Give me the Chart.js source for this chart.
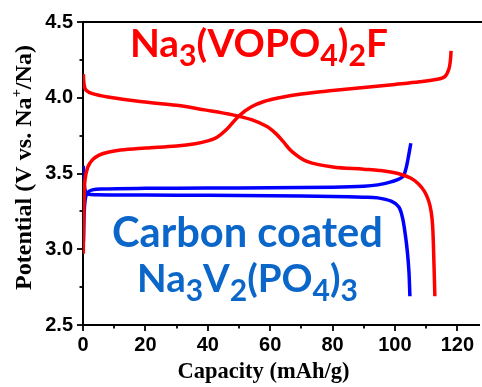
<!DOCTYPE html>
<html><head><meta charset="utf-8">
<script src="https://cdn.jsdelivr.net/npm/chart.js@4"></script>
<style>html,body{margin:0;padding:0;background:#fff}#c{display:block}</style>
</head><body>
<canvas id="c" width="482" height="387"></canvas>
<script>
// Na3(VOPO4)2F charge
const nvpfChargeCap = [0.1,0.3,0.6,1.5,3,5,8,12,20,30,36,40,43,46,50,54,58,63,70,80,90,100,108,113,116,117.3,117.8,118];
const nvpfChargeV   = [2.97,3.3,3.45,3.54,3.59,3.62,3.64,3.655,3.668,3.682,3.697,3.715,3.74,3.79,3.88,3.94,3.975,4.0,4.025,4.048,4.068,4.088,4.105,4.12,4.14,4.19,4.25,4.31];
// Na3(VOPO4)2F discharge
const nvpfDischCap = [0.1,0.4,1,3,8,19,30,39,48,54,59,62,64,67,72,80,90,95,101,105,107.5,109.5,110.8,111.6,112.1,112.45,112.8];
const nvpfDischV   = [4.155,4.08,4.05,4.027,4.005,3.973,3.95,3.92,3.887,3.855,3.81,3.76,3.715,3.645,3.578,3.543,3.528,3.52,3.5,3.47,3.432,3.38,3.32,3.25,3.15,2.95,2.69];
// Carbon coated Na3V2(PO4)3 charge
const nvpChargeCap = [0.15,0.4,0.8,1.5,3,6,20,40,60,80,90,94.5,99,102.5,103.5,104.1,105.1];
const nvpChargeV   = [3.05,3.25,3.34,3.375,3.392,3.398,3.402,3.404,3.406,3.41,3.416,3.425,3.446,3.479,3.53,3.586,3.70];
// Carbon coated Na3V2(PO4)3 discharge
const nvpDischCap = [0.1,0.4,0.8,1.5,4,20,40,60,80,90,94.5,98.8,101.2,102.4,103.3,104.0,104.5,104.8];
const nvpDischV   = [3.55,3.43,3.38,3.365,3.36,3.358,3.356,3.353,3.349,3.344,3.339,3.317,3.28,3.21,3.1,2.98,2.85,2.69];

const xMajorTicks = [0,20,40,60,80,100,120];
const xMinorTicks = [10,30,50,70,90,110];
const yMajorTicks = [2.5,3.0,3.5,4.0,4.5];
const yMinorTicks = [2.75,3.25,3.75,4.25];

const pts = (xs, ys) => xs.map((x,i)=>({x, y: ys[i]}));
const RED = '#ff0000', BLUE = '#0000ff', TXTBLUE = '#0b66c9';

function richWidth(ctx, parts, size, family, subScale){
  let w = 0;
  for (const [t, m] of parts){
    const s = m ? size*subScale : size;
    ctx.font = `bold ${s}px ${family}`;
    w += ctx.measureText(t).width;
  }
  return w;
}
function drawRich(ctx, parts, x, y, size, family, color, subScale){
  ctx.fillStyle = color;
  ctx.textBaseline = 'alphabetic';
  ctx.textAlign = 'left';
  for (const [t, m] of parts){
    const s = m ? size*subScale : size;
    ctx.font = `bold ${s}px ${family}`;
    const dy = m === 1 ? size*0.24 : (m === 2 ? -size*0.42 : 0);
    ctx.fillText(t, x, y + dy);
    x += ctx.measureText(t).width;
  }
}
function fitRich(ctx, parts, left, right, baseline, family, color){
  const w100 = richWidth(ctx, parts, 100, family, 0.78);
  const size = 100 * (right - left) / w100;
  drawRich(ctx, parts, left, baseline, size, family, color, 0.78);
}

const overlay = {
  id: 'overlay',
  afterDraw(chart){
    const ctx = chart.ctx, a = chart.chartArea;
    const xs = chart.scales.x, ys = chart.scales.y;
    ctx.save();
    // top frame
    ctx.strokeStyle = '#000'; ctx.lineWidth = 2;
    ctx.beginPath(); ctx.moveTo(a.left - 1, a.top); ctx.lineTo(chart.width, a.top); ctx.stroke();
    // ticks
    ctx.lineWidth = 1.8;
    const tx = (v, len) => { const p = Math.round(xs.getPixelForValue(v)); ctx.beginPath(); ctx.moveTo(p, a.bottom); ctx.lineTo(p, a.bottom + len); ctx.stroke(); };
    const ty = (v, len) => { const p = Math.round(ys.getPixelForValue(v)); ctx.beginPath(); ctx.moveTo(a.left, p); ctx.lineTo(a.left - len, p); ctx.stroke(); };
    xMajorTicks.forEach(v => tx(v, 6)); xMinorTicks.forEach(v => tx(v, 3.5));
    yMajorTicks.forEach(v => ty(v, 6)); yMinorTicks.forEach(v => ty(v, 3.5));
    // axis titles
    const serif = '"Liberation Serif", "Times New Roman", serif';
    ctx.fillStyle = '#000';
    ctx.font = `bold 22.5px ${serif}`;
    ctx.textAlign = 'center'; ctx.textBaseline = 'alphabetic';
    ctx.fillText('Capacity (mAh/g)', 263.5, 378);
    ctx.save();
    ctx.translate(31, 167.5); ctx.rotate(-Math.PI/2);
    const yt = [['Potential (V vs. Na',0],['+',2],['/Na)',0]];
    const fs = 24;
    const wy = richWidth(ctx, yt, fs, serif, 0.6);
    const sc = 245 / wy;
    ctx.scale(sc, 1);
    drawRich(ctx, yt, -wy/2, 0, fs, serif, '#000', 0.6);
    ctx.restore();
    // annotations
    const fam = 'Lato, "Open Sans", sans-serif';
    fitRich(ctx, [['Na',0],['3',1],['(VOPO',0],['4',1],[')',0],['2',1],['F',0]], 130, 388, 57, fam, RED);
    fitRich(ctx, [['Carbon coated',0]], 112, 383, 247, fam, TXTBLUE);
    fitRich(ctx, [['Na',0],['3',1],['V',0],['2',1],['(PO',0],['4',1],[')',0],['3',1]], 137, 358, 292, fam, TXTBLUE);
    ctx.restore();
  }
};

const ds = (label, data, color) => ({label, data, borderColor: color, backgroundColor: color, borderWidth: 3.5, pointRadius: 0, fill: false, tension: 0.35});

new Chart(document.getElementById('c'), {
  type: 'line',
  data: { datasets: [
    ds('NVPF charge', pts(nvpfChargeCap, nvpfChargeV), RED),
    ds('NVPF discharge', pts(nvpfDischCap, nvpfDischV), RED),
    ds('NVP charge', pts(nvpChargeCap, nvpChargeV), BLUE),
    ds('NVP discharge', pts(nvpDischCap, nvpDischV), BLUE)
  ]},
  options: {
    responsive: false, animation: false,
    layout: { padding: { top: 15, right: 0, left: 0, bottom: 0 } },
    plugins: { legend: { display: false }, tooltip: { enabled: false } },
    scales: {
      x: {
        type: 'linear', min: 0, max: 127,
        afterBuildTicks: s => { s.ticks = xMajorTicks.map(v => ({value: v})); },
        afterFit: s => { s.height = 62; },
        grid: { display: true, drawOnChartArea: false, drawTicks: false },
        border: { display: true, color: '#000', width: 2 },
        ticks: { color: '#000', font: { family: '"Liberation Sans", Arial, sans-serif', weight: 'bold', size: 20 }, padding: 8, maxRotation: 0, autoSkip: false }
      },
      y: {
        type: 'linear', min: 2.5, max: 4.5,
        afterBuildTicks: s => { s.ticks = yMajorTicks.map(v => ({value: v})); },
        afterFit: s => { s.width = 83; },
        grid: { display: true, drawOnChartArea: false, drawTicks: false },
        border: { display: true, color: '#000', width: 2 },
        ticks: { color: '#000', font: { family: '"Liberation Sans", Arial, sans-serif', weight: 'bold', size: 20 }, padding: 10, callback: v => v.toFixed(1), autoSkip: false }
      }
    }
  },
  plugins: [overlay]
});
</script>
</body></html>
